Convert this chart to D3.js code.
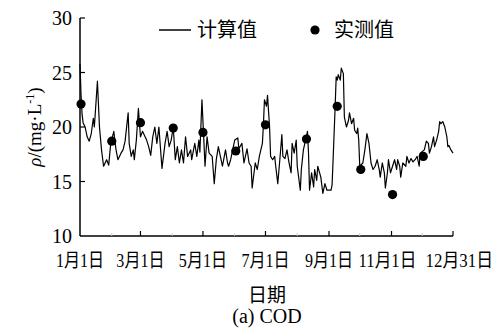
<!DOCTYPE html>
<html>
<head>
<meta charset="utf-8">
<script src="https://cdn.jsdelivr.net/npm/d3@7"></script>
<style>
  body { margin: 0; background: #fff; }
  text { font-family: "Liberation Serif", "Noto Sans CJK SC", serif; fill: #000; }
</style>
</head>
<body>
<div id="main"></div>
<script>
// day of year (Jan 1 = 0) and COD values
var calcDays = [0,1,2,3,5,7,9,11,13,14,17,19,21,23,26,28,30,33,35,37,40,42,44,47,48,50,52,53,55,57,59,61,65,67,69,71,
  73,75,77,80,83,85,87,89,91,93,95,97,99,101,103,105,108,109,112,114,116,117,119,121,122,124,126,129,131,133,135,137,139,142,144,
  145,147,149,151,154,155,158,160,163,165,167,168,171,173,175,178,179,180,182,183,185,186,188,190,191,193,195,197,198,200,202,204,206,207,209,211,212,215,
  216,218,222,223,224,226,228,229,231,232,235,237,239,241,245,246,247,249,250,251,252,254,255,257,258,260,262,263,265,267,268,270,271,272,273,276,278,280,282,284,286,288,
  290,292,293,295,297,298,300,301,303,305,307,309,310,312,313,315,318,319,321,323,325,327,329,331,332,336,338,340,341,343,345,346,348,350,351,352,354,356,358,359,360,362,364];
var calcValues = [25.8,23.0,21.2,20.4,20.0,19.1,18.7,19.4,20.8,20.0,24.2,20.0,17.9,16.4,17.0,16.5,18.5,19.6,18.0,17.0,17.6,17.9,18.7,21.3,18.5,17.3,17.9,17.0,18.8,21.7,19.1,19.6,18.8,18.2,17.4,19.1,
  20.0,18.5,20.0,16.2,18.5,19.6,18.2,18.8,20.0,17.0,18.2,16.7,17.9,16.7,19.1,17.3,17.9,17.0,18.5,17.3,18.8,17.7,22.5,18.5,16.4,19.1,17.6,17.3,14.8,17.0,18.2,17.3,16.4,17.9,16.7,
  16.4,17.0,17.9,18.8,19.0,18.0,18.5,16.7,18.0,16.7,16.4,14.4,16.7,16.1,17.3,18.5,20.2,22.5,21.9,22.9,20.0,17.3,17.0,17.3,16.4,14.8,17.0,19.3,17.3,17.1,17.9,16.7,15.8,18.5,17.6,18.8,16.4,14.2,
  16.1,17.9,19.6,17.6,14.2,15.8,14.5,16.1,15.1,16.4,15.4,13.9,14.8,14.2,14.2,14.7,17.0,21.9,24.6,24.3,24.8,24.3,25.4,24.9,20.9,20.0,20.6,21.3,20.3,20.8,19.7,19.4,19.9,18.8,16.4,16.7,17.9,19.4,18.5,16.7,16.1,16.4,
  17.0,16.1,15.4,16.7,15.8,14.4,15.8,17.0,15.8,16.4,17.0,16.1,17.0,16.4,15.4,16.7,16.4,17.3,16.7,17.1,16.8,17.0,17.3,16.4,17.6,17.9,18.7,18.5,17.6,18.2,19.1,18.2,18.8,19.6,20.5,20.3,20.5,20.0,19.1,18.2,18.3,17.9,17.6];

var measDays = [1, 31, 59, 91, 120, 152, 181, 221, 251, 274, 305, 335];
var measValues = [22.1, 18.7, 20.4, 19.9, 19.5, 17.8, 20.2, 18.9, 21.9, 16.1, 13.8, 17.3];

var xTickDays = [0, 59, 120, 181, 243, 304, 364];
var xTickLabels = ["1月1日", "3月1日", "5月1日", "7月1日", "9月1日", "11月1日", "12月31日"];
var minorDays = [31, 90, 151, 212, 273, 334];
var yTicks = [10, 15, 20, 25, 30];

const W = 501, H = 333;
const svg = d3.select("#main").append("svg")
  .attr("width", W).attr("height", H);

const x = d3.scaleLinear().domain([0, 364]).range([80, 453]);
const y = d3.scaleLinear().domain([10, 30]).range([236, 18]);

// axes
svg.append("line").attr("x1", 80).attr("x2", 80).attr("y1", y(30)).attr("y2", y(10))
  .attr("stroke", "#000").attr("stroke-width", 1.5);
svg.append("line").attr("x1", 80).attr("x2", x(364)).attr("y1", y(10)).attr("y2", y(10))
  .attr("stroke", "#000").attr("stroke-width", 1.5);

svg.selectAll(".ytick").data(yTicks.slice(1)).join("line")
  .attr("x1", 80).attr("x2", 85)
  .attr("y1", d => y(d)).attr("y2", d => y(d))
  .attr("stroke", "#000").attr("stroke-width", 1.2);

svg.selectAll(".ylab").data(yTicks).join("text")
  .attr("x", 72).attr("y", d => y(d)).attr("dy", "0.35em")
  .attr("text-anchor", "end").style("font-size", "20px")
  .text(d => d);

svg.selectAll(".xtick").data(xTickDays.slice(1)).join("line")
  .attr("x1", d => x(d)).attr("x2", d => x(d))
  .attr("y1", y(10)).attr("y2", y(10) - 5)
  .attr("stroke", "#000").attr("stroke-width", 1.2);

svg.selectAll(".xminor").data(minorDays).join("line")
  .attr("x1", d => x(d)).attr("x2", d => x(d))
  .attr("y1", y(10)).attr("y2", y(10) - 3)
  .attr("stroke", "#ccc").attr("stroke-width", 1);

// rough widths of the condensed tick labels
function labelWidth(s) {
  var w = 0;
  for (var c of s) w += /[0-9]/.test(c) ? 9.6 : 14.5;
  return w;
}
var last = xTickDays.length - 1;
svg.selectAll(".xlab").data(xTickDays).join("text")
  // last label is pushed right so it clears 11月1日
  .attr("x", (d, i) => i == last ? x(d) + 40 : i == last - 1 ? x(d) - 4 : x(d))
  .attr("y", 267)
  .attr("text-anchor", (d, i) => i == last ? "end" : "middle")
  .style("font-size", "19px")
  .attr("textLength", (d, i) => labelWidth(xTickLabels[i]))
  .attr("lengthAdjust", "spacingAndGlyphs")
  .text((d, i) => xTickLabels[i]);

// calculated line
const line = d3.line().x(d => x(d[0])).y(d => y(d[1]));
svg.append("path")
  .datum(calcDays.map((d, i) => [d, calcValues[i]]))
  .attr("d", line)
  .attr("fill", "none").attr("stroke", "#000").attr("stroke-width", 1.2)
  .attr("stroke-linejoin", "round");

// measured points
svg.selectAll(".dot").data(measDays).join("circle")
  .attr("cx", d => x(d)).attr("cy", (d, i) => y(measValues[i]))
  .attr("r", 4.6).attr("fill", "#000");

// legend
svg.append("line").attr("x1", 159).attr("x2", 191).attr("y1", 30).attr("y2", 30)
  .attr("stroke", "#000").attr("stroke-width", 1.5);
svg.append("text").attr("x", 197).attr("y", 30).attr("dy", "0.35em")
  .style("font-size", "20px").text("计算值");
svg.append("circle").attr("cx", 315).attr("cy", 30).attr("r", 4.6).attr("fill", "#000");
svg.append("text").attr("x", 334).attr("y", 30).attr("dy", "0.35em")
  .style("font-size", "20px").text("实测值");

// axis titles
const yl = svg.append("text")
  .attr("transform", "translate(41," + y(20) + ") rotate(-90)")
  .attr("text-anchor", "middle").style("font-size", "19px");
yl.append("tspan").style("font-style", "italic").text("ρ");
yl.append("tspan").text("/(mg·L");
yl.append("tspan").attr("dy", -7).style("font-size", "12px").text("-1");
yl.append("tspan").attr("dy", 7).text(")");

svg.append("text").attr("x", 267).attr("y", 302)
  .attr("text-anchor", "middle").style("font-size", "19px").text("日期");
svg.append("text").attr("x", 267).attr("y", 323)
  .attr("text-anchor", "middle").style("font-size", "20px").text("(a) COD");
</script>
</body>
</html>
